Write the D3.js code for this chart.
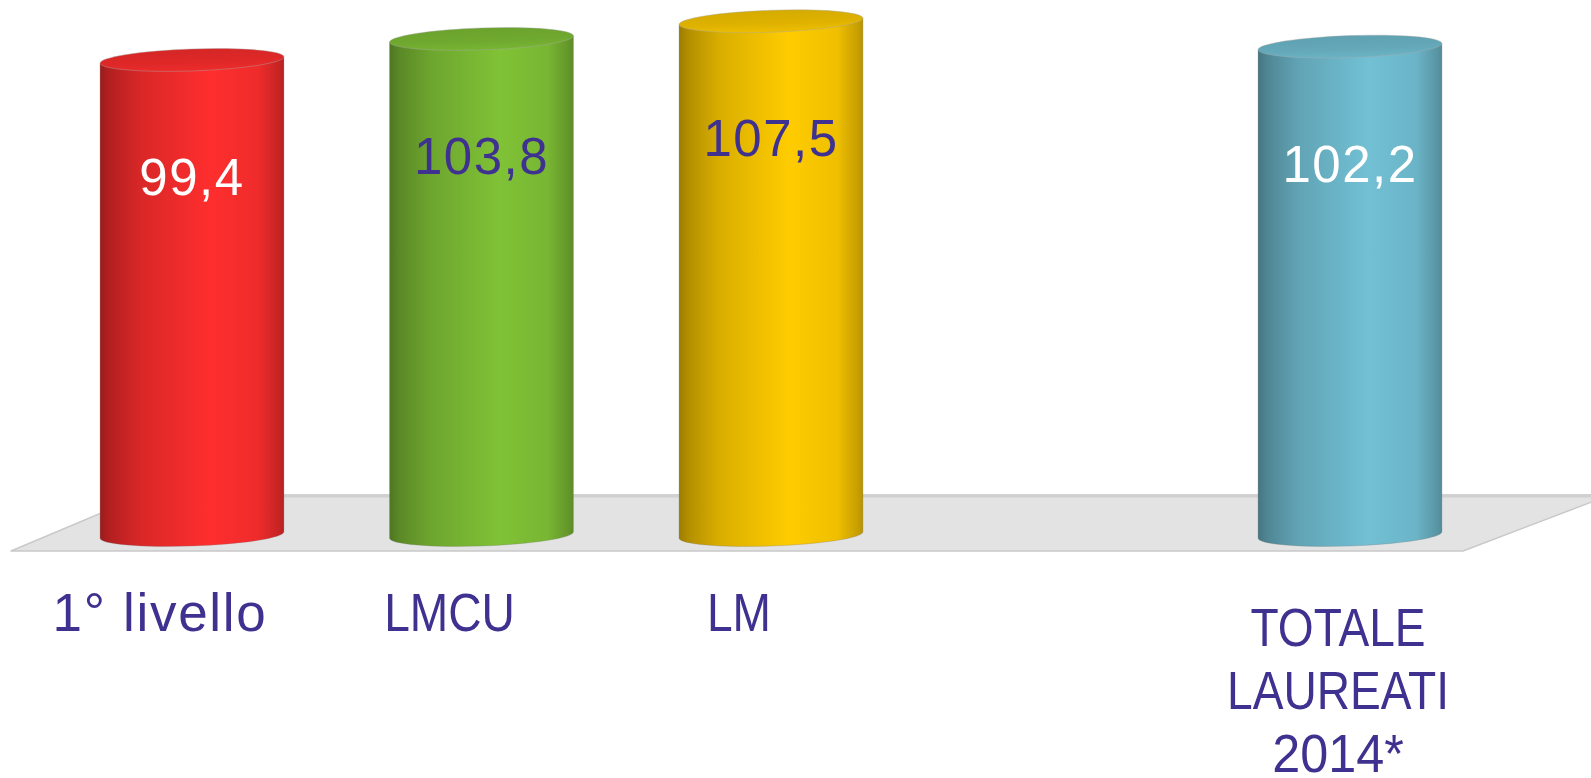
<!DOCTYPE html>
<html>
<head>
<meta charset="utf-8">
<script src="https://cdn.jsdelivr.net/npm/d3@7"></script>
<style>
  html, body { margin: 0; padding: 0; background: #ffffff; }
  svg { display: block; }
</style>
</head>
<body>
<svg id="chart" width="1591" height="778"></svg>
<script>
// ---- data ----
const categories = ["1° livello", "LMCU", "LM", "", "TOTALE\nLAUREATI\n2014*"];
const values = [99.4, 103.8, 107.5, null, 102.2];
// ---- styles ----
const barColors = ["#ff2e2e", "#80c236", "#ffcc00", null, "#72c0d4"];
const labelColors = ["#ffffff", "#3f3190", "#3f3190", null, "#ffffff"];
const textPurple = "#3f3190";

const W = 1591, H = 778;
const svg = d3.select("#chart");
const defs = svg.append("defs");

const x = d3.scalePoint().domain(categories).range([192, 1350]);
const y = d3.scaleLinear().domain([0, 110]).range([535, 535 - 110 * 4.779]);
const rx = 92, ry = 11, tilt = -2;
const base = y(0);

const itFmt = d3.formatLocale({decimal: ",", thousands: ".", grouping: [3], currency: ["€", ""]}).format(".1f");

// ---- floor ----
const floorBack = base - 40, floorFront = base + 16;
const fx0 = x(categories[0]), fx1 = x(categories[categories.length - 1]);
const floorPts = [
  [fx0 - 181, floorFront],
  [fx0 - 48, floorBack],
  [fx1 + 260, floorBack],
  [fx1 + 113, floorFront]
];
svg.append("polygon")
  .attr("points", floorPts.map(p => p.join(",")).join(" "))
  .attr("fill", "#e3e3e3")
  .attr("stroke", "#c9c9c9")
  .attr("stroke-width", 1.5)
  .attr("stroke-linejoin", "round");
svg.append("line")
  .attr("x1", fx0 - 48).attr("x2", W)
  .attr("y1", floorBack + 1).attr("y2", floorBack + 1)
  .attr("stroke", "#d0d0d0").attr("stroke-width", 3);

// ---- gradients ----
const data = categories.map((c, i) => ({c, v: values[i], color: barColors[i], lc: labelColors[i], i}))
  .filter(d => d.v != null);

data.forEach(d => {
  const b = d3.color(d.color);
  const g = defs.append("linearGradient").attr("id", "body" + d.i)
    .attr("x1", 0).attr("x2", 1).attr("y1", 0).attr("y2", 0);
  [[0, b.darker(1.4)], [0.05, b.darker(1.0)], [0.22, b.darker(0.45)], [0.6, b], [0.86, b.darker(0.18)], [0.97, b.darker(0.7)], [1, b.darker(0.9)]]
    .forEach(([o, col]) => g.append("stop").attr("offset", o).attr("stop-color", col.formatHex()));
  const t = defs.append("linearGradient").attr("id", "top" + d.i)
    .attr("x1", 0).attr("x2", 0).attr("y1", 0).attr("y2", 1);
  [[0, b.darker(0.5)], [0.6, b.darker(0.38)], [1, b.darker(0.2)]]
    .forEach(([o, col]) => t.append("stop").attr("offset", o).attr("stop-color", col.formatHex()));
});

// ---- cylinders ----
const rad = tilt * Math.PI / 180;
const dxE = rx * Math.cos(rad), dyE = rx * Math.sin(rad);

const bars = svg.append("g").selectAll("g.bar").data(data).join("g").attr("class", "bar");

bars.append("path")
  .attr("d", d => {
    const cx = x(d.c), yt = y(d.v), yb = base;
    return `M${cx - dxE},${yt - dyE} L${cx - dxE},${yb - dyE} ` +
      `A${rx},${ry} ${tilt} 0 0 ${cx + dxE},${yb + dyE} ` +
      `L${cx + dxE},${yt + dyE} Z`;
  })
  .attr("fill", d => `url(#body${d.i})`)
  .attr("stroke", "rgba(120,120,120,0.35)")
  .attr("stroke-width", 0.8);

bars.append("ellipse")
  .attr("cx", 0).attr("cy", 0)
  .attr("rx", rx).attr("ry", ry)
  .attr("transform", d => `translate(${x(d.c)},${y(d.v)}) rotate(${tilt})`)
  .attr("fill", d => `url(#top${d.i})`)
  .attr("stroke", "rgba(170,170,170,0.5)")
  .attr("stroke-width", 0.8);

// ---- value labels ----
bars.append("text")
  .attr("x", d => x(d.c))
  .attr("y", d => y(d.v) + 135)
  .attr("text-anchor", "middle")
  .attr("font-family", "'Liberation Sans', Arial, sans-serif")
  .attr("font-size", 51)
  .attr("letter-spacing", 1.5)
  .attr("fill", d => d.lc)
  .text(d => itFmt(d.v));

// ---- category labels (narrow face emulated with a horizontal squeeze) ----
function lineStyle(l) {
  if (/[a-z]/.test(l)) return {sx: 1.0, ls: 1.7};
  if (/^[0-9*]+$/.test(l)) return {sx: 0.95, ls: 0};
  return {sx: 0.87, ls: 0};
}
const catG = svg.append("g");
categories.forEach(c => {
  if (!c) return;
  const lines = c.split("\n");
  const multi = lines.length > 1;
  const cx = x(c) + (multi ? -12 : -32);
  const y0 = multi ? 646 : 631;
  lines.forEach((l, k) => {
    const st = lineStyle(l);
    catG.append("text")
      .attr("transform", `translate(${cx},${y0 + k * 63}) scale(${st.sx},1)`)
      .attr("text-anchor", "middle")
      .attr("font-family", "'Liberation Sans', Arial, sans-serif")
      .attr("font-size", 53)
      .attr("letter-spacing", st.ls)
      .attr("fill", textPurple)
      .text(l);
  });
});
</script>
</body>
</html>
